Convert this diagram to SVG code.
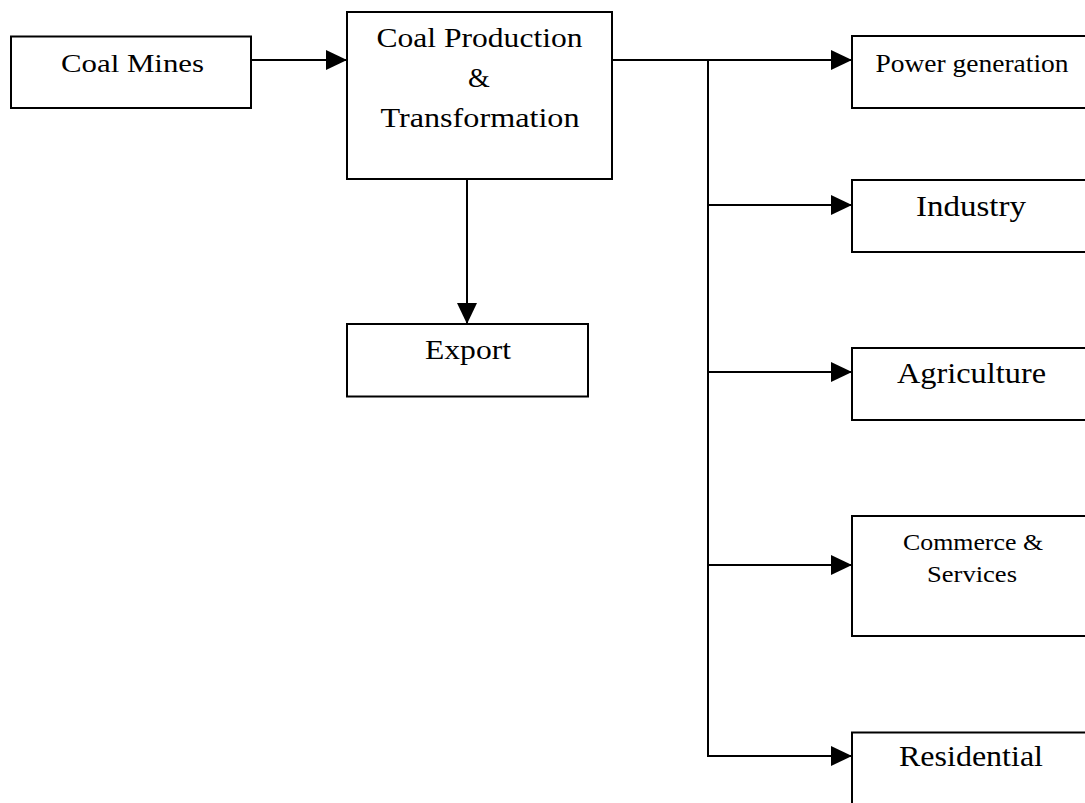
<svg xmlns="http://www.w3.org/2000/svg" width="1085" height="803" viewBox="0 0 1085 803">
  <style>
    .box { fill: #ffffff; stroke: #000000; stroke-width: 2; }
    .lbl { font-family: "Liberation Serif", "Times New Roman", serif; fill: #000000; text-anchor: middle; }
    .wire { fill: none; stroke: #000000; stroke-width: 2; }
  </style>
  <defs>
    <marker id="arrow" markerUnits="userSpaceOnUse" markerWidth="21" markerHeight="20" refX="21" refY="10" orient="auto">
      <path d="M0,0 L21,10 L0,20 Z" fill="#000000"/>
    </marker>
  </defs>
  <rect width="1085" height="803" fill="#ffffff"/>

  <!-- connectors -->
  <g id="connectors">
    <path class="wire" d="M251,60 H347" marker-end="url(#arrow)"/>
    <path class="wire" d="M467,179 V324" marker-end="url(#arrow)"/>
    <path class="wire" d="M612,60 H852" marker-end="url(#arrow)"/>
    <path class="wire" d="M708,60 V756 H852" marker-end="url(#arrow)"/>
    <path class="wire" d="M708,205 H852" marker-end="url(#arrow)"/>
    <path class="wire" d="M708,372 H852" marker-end="url(#arrow)"/>
    <path class="wire" d="M708,565 H852" marker-end="url(#arrow)"/>
  </g>

  <!-- source and processing -->
  <g id="coal-mines">
    <rect class="box" x="11" y="36.5" width="240" height="71.5"/>
    <text class="lbl" x="132.5" y="71.5" font-size="25" textLength="143" lengthAdjust="spacingAndGlyphs">Coal Mines</text>
  </g>
  <g id="coal-production">
    <rect class="box" x="347" y="12" width="265" height="167"/>
    <text class="lbl" x="479.5" y="46.5" font-size="28" textLength="206" lengthAdjust="spacingAndGlyphs">Coal Production</text>
    <text class="lbl" x="479" y="86.5" font-size="28">&amp;</text>
    <text class="lbl" x="480" y="126.5" font-size="28" textLength="199" lengthAdjust="spacingAndGlyphs">Transformation</text>
  </g>
  <g id="export">
    <rect class="box" x="347" y="324" width="241" height="72.5"/>
    <text class="lbl" x="468" y="359" font-size="28" textLength="86" lengthAdjust="spacingAndGlyphs">Export</text>
  </g>

  <!-- end-use sectors -->
  <g id="power-generation">
    <rect class="box" x="852" y="36" width="260" height="72"/>
    <text class="lbl" x="972" y="71.5" font-size="26" textLength="193" lengthAdjust="spacingAndGlyphs">Power generation</text>
  </g>
  <g id="industry">
    <rect class="box" x="852" y="180" width="260" height="72"/>
    <text class="lbl" x="971" y="215.5" font-size="30" textLength="110" lengthAdjust="spacingAndGlyphs">Industry</text>
  </g>
  <g id="agriculture">
    <rect class="box" x="852" y="348" width="260" height="72"/>
    <text class="lbl" x="971.5" y="382.5" font-size="29" textLength="149" lengthAdjust="spacingAndGlyphs">Agriculture</text>
  </g>
  <g id="commerce-services">
    <rect class="box" x="852" y="516" width="260" height="120"/>
    <text class="lbl" x="973" y="549.5" font-size="23" textLength="140" lengthAdjust="spacingAndGlyphs">Commerce &amp;</text>
    <text class="lbl" x="972" y="581.5" font-size="23" textLength="90" lengthAdjust="spacingAndGlyphs">Services</text>
  </g>
  <g id="residential">
    <rect class="box" x="852" y="732.5" width="260" height="100"/>
    <text class="lbl" x="971" y="765.5" font-size="29" textLength="144" lengthAdjust="spacingAndGlyphs">Residential</text>
  </g>
</svg>
